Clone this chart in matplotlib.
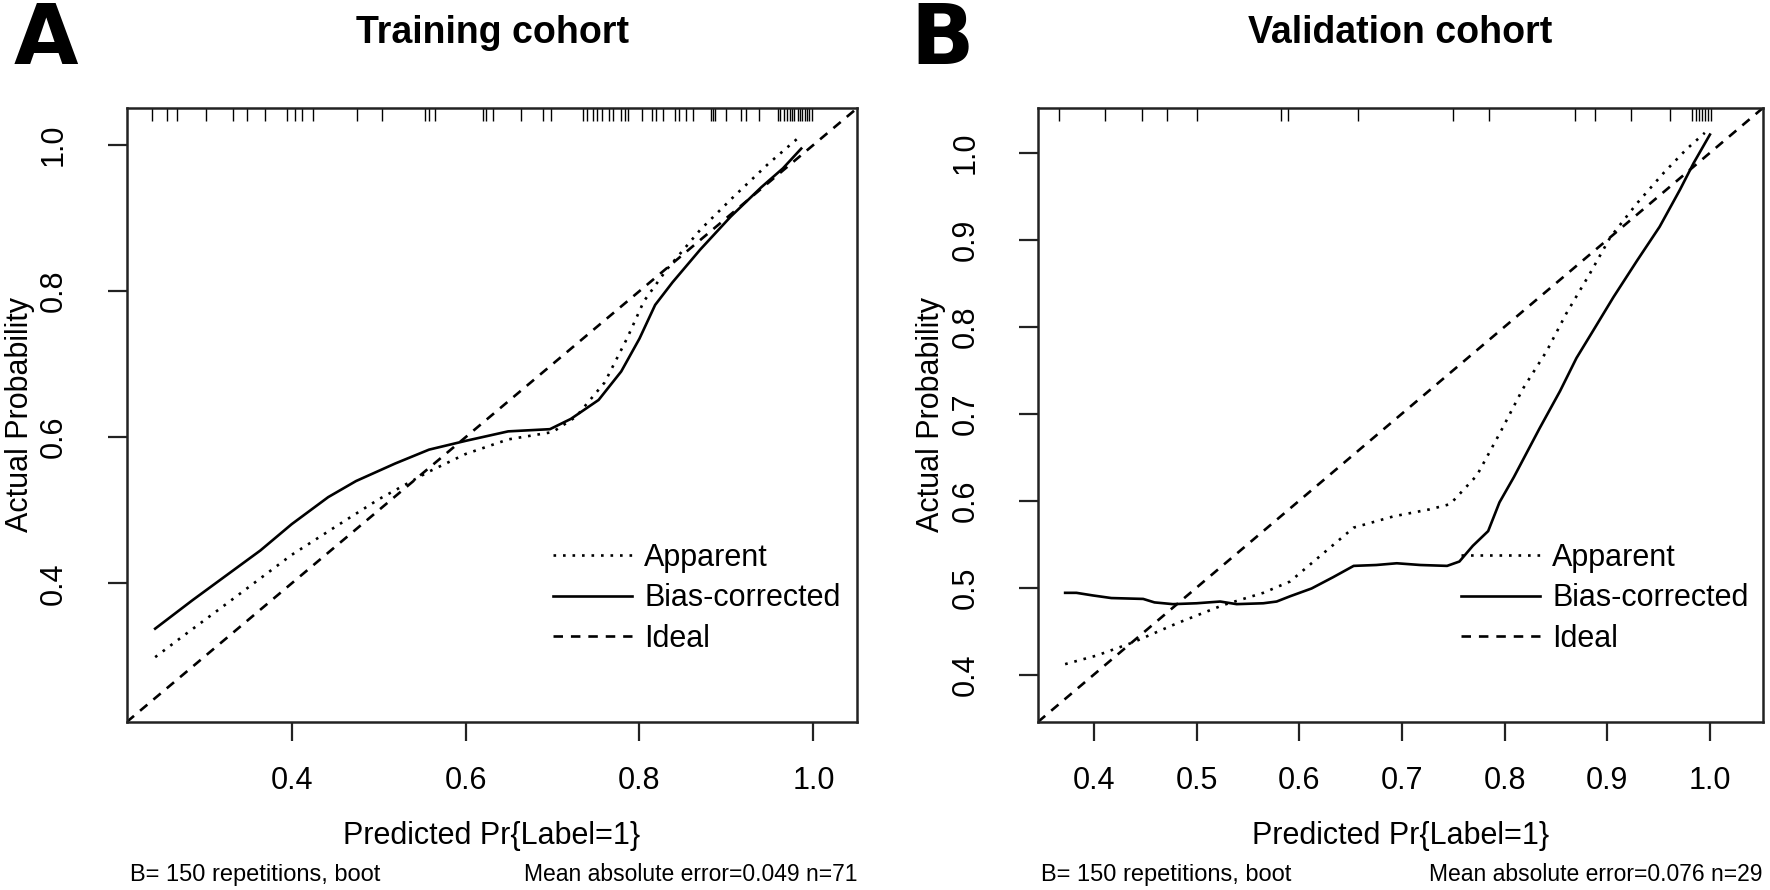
"""Calibration curves (apparent / bias-corrected / ideal) for the training and validation cohorts."""

import matplotlib
matplotlib.use("Agg")
import matplotlib.pyplot as plt
import matplotlib.transforms as mtransforms

plt.rcParams["font.family"] = ["Liberation Sans", "DejaVu Sans"]

# ---- data --------------------------------------------------------------------
# Panel A: training cohort
train_lim = (0.2103, 1.0506)
train_xticks = [0.4, 0.6, 0.8, 1.0]
train_yticks = [0.4, 0.6, 0.8, 1.0]
train_app_x = [0.243, 0.273, 0.325, 0.400, 0.455, 0.500, 0.558, 0.600, 0.649, 0.700,
               0.727, 0.760, 0.786, 0.805, 0.831, 0.870, 0.909, 0.948, 0.981]
train_app_y = [0.299, 0.326, 0.372, 0.439, 0.481, 0.515, 0.553, 0.577, 0.597, 0.607,
               0.628, 0.675, 0.736, 0.786, 0.829, 0.884, 0.930, 0.974, 1.008]
train_bc_x = [0.243, 0.286, 0.325, 0.364, 0.400, 0.442, 0.474, 0.519, 0.558, 0.600,
              0.649, 0.697, 0.721, 0.753, 0.779, 0.800, 0.818, 0.838, 0.870, 0.905,
              0.940, 0.965, 0.986]
train_bc_y = [0.338, 0.377, 0.411, 0.445, 0.481, 0.518, 0.540, 0.564, 0.583, 0.595,
              0.608, 0.611, 0.625, 0.651, 0.690, 0.735, 0.781, 0.812, 0.857, 0.902,
              0.942, 0.968, 0.995]
train_rug = [0.239, 0.257, 0.268, 0.301, 0.333, 0.349, 0.369, 0.395, 0.404, 0.412,
             0.425, 0.475, 0.504, 0.553, 0.558, 0.565, 0.620, 0.624, 0.631, 0.664,
             0.689, 0.698, 0.735, 0.740, 0.746, 0.751, 0.757, 0.765, 0.770, 0.779,
             0.783, 0.787, 0.803, 0.814, 0.819, 0.827, 0.841, 0.846, 0.853, 0.861,
             0.882, 0.884, 0.887, 0.899, 0.917, 0.922, 0.937, 0.959, 0.962, 0.966,
             0.970, 0.973, 0.975, 0.978, 0.982, 0.985, 0.987, 0.990, 0.993, 0.995,
             0.998]
train_footer = ("B= 150 repetitions, boot", "Mean absolute error=0.049 n=71")

# Panel B: validation cohort
valid_lim = (0.3455, 1.0516)
valid_xticks = [0.4, 0.5, 0.6, 0.7, 0.8, 0.9, 1.0]
valid_yticks = [0.4, 0.5, 0.6, 0.7, 0.8, 0.9, 1.0]
valid_app_x = [0.372, 0.403, 0.438, 0.481, 0.526, 0.565, 0.591, 0.620, 0.653, 0.692,
               0.727, 0.747, 0.773, 0.796, 0.818, 0.841, 0.860, 0.883, 0.903, 0.929,
               0.955, 0.977, 0.995]
valid_app_y = [0.412, 0.422, 0.437, 0.459, 0.480, 0.494, 0.507, 0.536, 0.569, 0.582,
               0.590, 0.596, 0.629, 0.679, 0.729, 0.772, 0.815, 0.861, 0.903, 0.942,
               0.977, 1.004, 1.023]
valid_bc_x = [0.372, 0.383, 0.399, 0.417, 0.448, 0.459, 0.477, 0.500, 0.523, 0.539,
              0.565, 0.578, 0.591, 0.612, 0.633, 0.653, 0.675, 0.695, 0.718, 0.744,
              0.756, 0.769, 0.784, 0.795, 0.809, 0.834, 0.854, 0.870, 0.886, 0.906,
              0.929, 0.951, 0.971, 0.984, 1.000]
valid_bc_y = [0.494, 0.494, 0.491, 0.488, 0.487, 0.483, 0.481, 0.482, 0.484, 0.481,
              0.482, 0.484, 0.490, 0.499, 0.512, 0.525, 0.526, 0.528, 0.526, 0.525,
              0.530, 0.548, 0.565, 0.598, 0.627, 0.683, 0.726, 0.764, 0.795, 0.834,
              0.876, 0.915, 0.958, 0.988, 1.021]
valid_rug = [0.366, 0.411, 0.447, 0.471, 0.500, 0.582, 0.589, 0.657, 0.750, 0.785,
             0.869, 0.888, 0.923, 0.961, 0.983, 0.986, 0.989, 0.992, 0.995, 0.998,
             1.001]
valid_footer = ("B= 150 repetitions, boot", "Mean absolute error=0.076 n=29")

legend_labels = ["Apparent", "Bias-corrected", "Ideal"]

FS = 22
LW = 1.9
DOT = (0, (1.0, 2.6))
DASH = (0, (3.6, 3.0))


def draw_panel(fig, rect, letter, letter_x, title, lim, xticks, yticks,
               app_x, app_y, bc_x, bc_y, rug, footer):
    ax = fig.add_axes(rect)
    ax.plot(app_x, app_y, color="black", lw=LW, linestyle=DOT, label=legend_labels[0])
    ax.plot(bc_x, bc_y, color="black", lw=LW, linestyle="-", label=legend_labels[1])
    ax.plot(lim, lim, color="black", lw=LW, linestyle=DASH, label=legend_labels[2])

    # rug of predicted probabilities along the top edge
    trans = mtransforms.blended_transform_factory(ax.transData, ax.transAxes)
    ax.vlines(rug, 0.979, 1.0, transform=trans, color="black", lw=1.0)

    ax.set_xlim(lim)
    ax.set_ylim(lim)
    ax.set_xticks(xticks)
    ax.set_yticks(yticks)
    ax.set_xticklabels([f"{t:.1f}" for t in xticks])
    ax.set_yticklabels([f"{t:.1f}" for t in yticks], rotation=90, va="center")
    ax.tick_params(direction="out", length=13.5, width=1.6, labelsize=FS, color="#222222")
    ax.tick_params(axis="x", pad=18)
    ax.tick_params(axis="y", pad=28)
    for s in ax.spines.values():
        s.set_linewidth(1.8)
        s.set_color("#222222")

    ax.set_xlabel("Predicted Pr{Label=1}", fontsize=FS, labelpad=18)
    ax.set_ylabel("Actual Probability", fontsize=FS, labelpad=3)

    ax.legend(loc="lower left", bbox_to_anchor=(0.562, 0.086), frameon=False,
              fontsize=FS, handlelength=2.6, handletextpad=0.4,
              labelspacing=0.34, borderpad=0)

    pos = ax.get_position()
    fig.text(pos.x0 + pos.width / 2, 0.963, title, fontsize=27, fontweight="bold",
             ha="center", va="center")
    fig.text(letter_x, 0.955, letter, fontsize=60, fontweight="bold",
             family=["DejaVu Sans"], ha="center", va="center")
    fig.text(pos.x0 + 0.002, 0.017, footer[0], fontsize=17, ha="left", va="center")
    fig.text(pos.x1, 0.017, footer[1], fontsize=16.5, ha="right", va="center")
    return ax


fig = plt.figure(figsize=(17.7, 8.9), dpi=100)

draw_panel(fig, [0.0716, 0.1888, 0.4128, 0.6899], "A", 0.026, "Training cohort",
           train_lim, train_xticks, train_yticks, train_app_x, train_app_y,
           train_bc_x, train_bc_y, train_rug, train_footer)
draw_panel(fig, [0.5864, 0.1888, 0.4096, 0.6899], "B", 0.532, "Validation cohort",
           valid_lim, valid_xticks, valid_yticks, valid_app_x, valid_app_y,
           valid_bc_x, valid_bc_y, valid_rug, valid_footer)

fig.savefig("out.png", dpi=100)
plt.close(fig)
